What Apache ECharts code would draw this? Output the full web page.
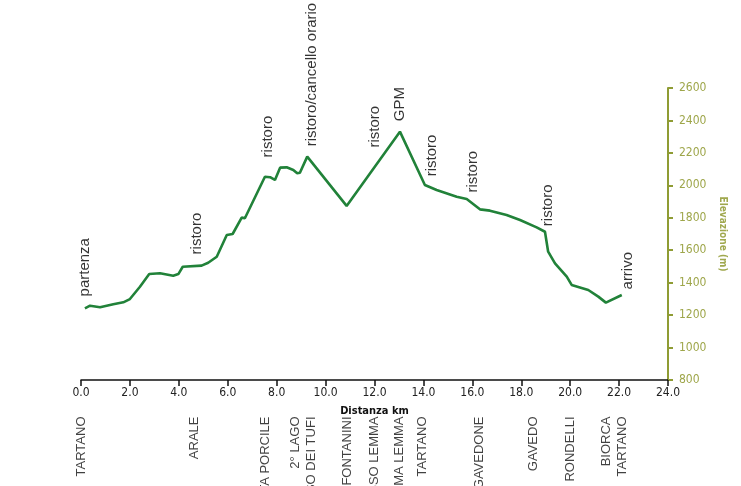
<!DOCTYPE html>
<html><head><meta charset="utf-8">
<script src="https://cdn.jsdelivr.net/npm/echarts@6/dist/echarts.min.js"></script>
<style>html,body{margin:0;padding:0;background:#fff}#c{width:741px;height:486px}</style>
</head><body><div id="c"></div>
<script>
// Elevation profile (km, m)
const distanceKm = [0.16,0.37,0.78,1.32,1.73,2.0,2.41,2.79,3.23,3.77,3.98,4.16,4.93,5.20,5.55,5.96,6.20,6.57,6.70,7.52,7.73,7.93,8.14,8.41,8.68,8.84,8.95,9.25,10.86,13.04,14.06,14.54,15.36,15.77,16.31,16.72,17.40,17.95,18.63,18.97,19.10,19.38,19.86,20.06,20.74,21.15,21.46,22.11];
const elevationM = [1242,1258,1248,1267,1279,1299,1375,1453,1458,1443,1453,1498,1505,1523,1560,1694,1700,1801,1797,2053,2050,2033,2109,2111,2095,2074,2078,2177,1873,2331,2002,1971,1930,1916,1852,1844,1817,1786,1741,1714,1591,1519,1437,1386,1355,1314,1277,1324];

// Annotations above the profile
const annotationText = ["partenza","ristoro","ristoro","ristoro/cancello orario","ristoro","GPM","ristoro","ristoro","ristoro","arrivo"];
const annotationKm   = [0.16, 4.74, 7.65, 9.43, 12.02, 13.04, 14.34, 16.03, 19.09, 22.36];
const annotationElev = [1312, 1571, 2169, 2238, 2230, 2392, 2053, 1953, 1745, 1355];

// Place names below the axis
const placeNames = ["TARTANO","ARALE","BAITA PORCILE","2° LAGO\nPASSO DEI TUFI","FONTANINI","PASSO LEMMA","CIMA LEMMA","TARTANO","GAVEDONE","GAVEDO","RONDELLI","BIORCA\nTARTANO"];
const placeKm    = [0, 4.62, 7.52, 9.08, 10.9, 11.98, 13.0, 13.96, 16.3, 18.5, 20.03, 21.8];

// Axes
const xMin = 0, xMax = 24, xStep = 2;
const yMin = 800, yMax = 2600, yStep = 200;

const narrow = "'DejaVu Sans Condensed','Liberation Sans Narrow','Arial Narrow',sans-serif";
const olive = '#8f9c34';

const chart = echarts.init(document.getElementById('c'), null, {renderer:'canvas'});
chart.setOption({
  animation: false,
  backgroundColor: '#fff',
  grid: {left: 81, right: 73, top: 88, bottom: 106, containLabel: false},
  xAxis: {
    type: 'value', min: xMin, max: xMax, interval: xStep,
    name: 'Distanza km', nameLocation: 'middle', nameGap: 26,
    nameTextStyle: {fontFamily: narrow, fontWeight: 'bold', fontSize: 11, color: '#111'},
    axisLine: {onZero: false, lineStyle: {color: '#111', width: 1.5}},
    axisTick: {show: true, length: 6, lineStyle: {color: '#111', width: 1.5}},
    axisLabel: {fontFamily: narrow, fontSize: 12, color: '#222', margin: 7,
      formatter: v => v.toFixed(1)},
    splitLine: {show: false}
  },
  yAxis: {
    type: 'value', position: 'right', min: yMin, max: yMax, interval: yStep,
    name: 'Elevazione (m)', nameLocation: 'middle', nameGap: 48, nameRotate: -90,
    nameTextStyle: {fontFamily: narrow, fontWeight: 'bold', fontSize: 10, color: '#a0a84e'},
    axisLine: {show: true, onZero: false, lineStyle: {color: olive, width: 2}},
    axisTick: {show: true, length: 5, lineStyle: {color: olive, width: 2}},
    axisLabel: {fontFamily: narrow, fontSize: 12, color: '#9ea64a', margin: 11,
      formatter: v => String(v)},
    splitLine: {show: false}
  },
  series: [
    {
      type: 'line', data: distanceKm.map((d, i) => [d, elevationM[i]]),
      showSymbol: false, symbol: 'none', silent: true,
      lineStyle: {color: '#218239', width: 2.6}
    },
    {
      type: 'scatter', silent: true, symbolSize: 1,
      itemStyle: {color: 'transparent'},
      data: annotationText.map((t, i) => ({name: t, value: [annotationKm[i], annotationElev[i]]})),
      label: {show: true, formatter: p => p.name, position: 'top', distance: 0,
        rotate: 90, align: 'left', verticalAlign: 'middle',
        fontFamily: "'Liberation Sans',Arial,sans-serif", fontSize: 15, color: '#000'}
    },
    {
      type: 'scatter', silent: true, symbolSize: 1, clip: false,
      itemStyle: {color: 'transparent'},
      data: placeNames.map((t, i) => ({name: t, value: [placeKm[i], yMin]})),
      label: {show: true, formatter: p => p.name, position: 'bottom', distance: 36,
        rotate: 90, align: 'right', verticalAlign: 'middle', lineHeight: 16,
        fontFamily: "'Liberation Sans',Arial,sans-serif", fontSize: 13, color: '#111'}
    }
  ]
});
</script>
</body></html>
